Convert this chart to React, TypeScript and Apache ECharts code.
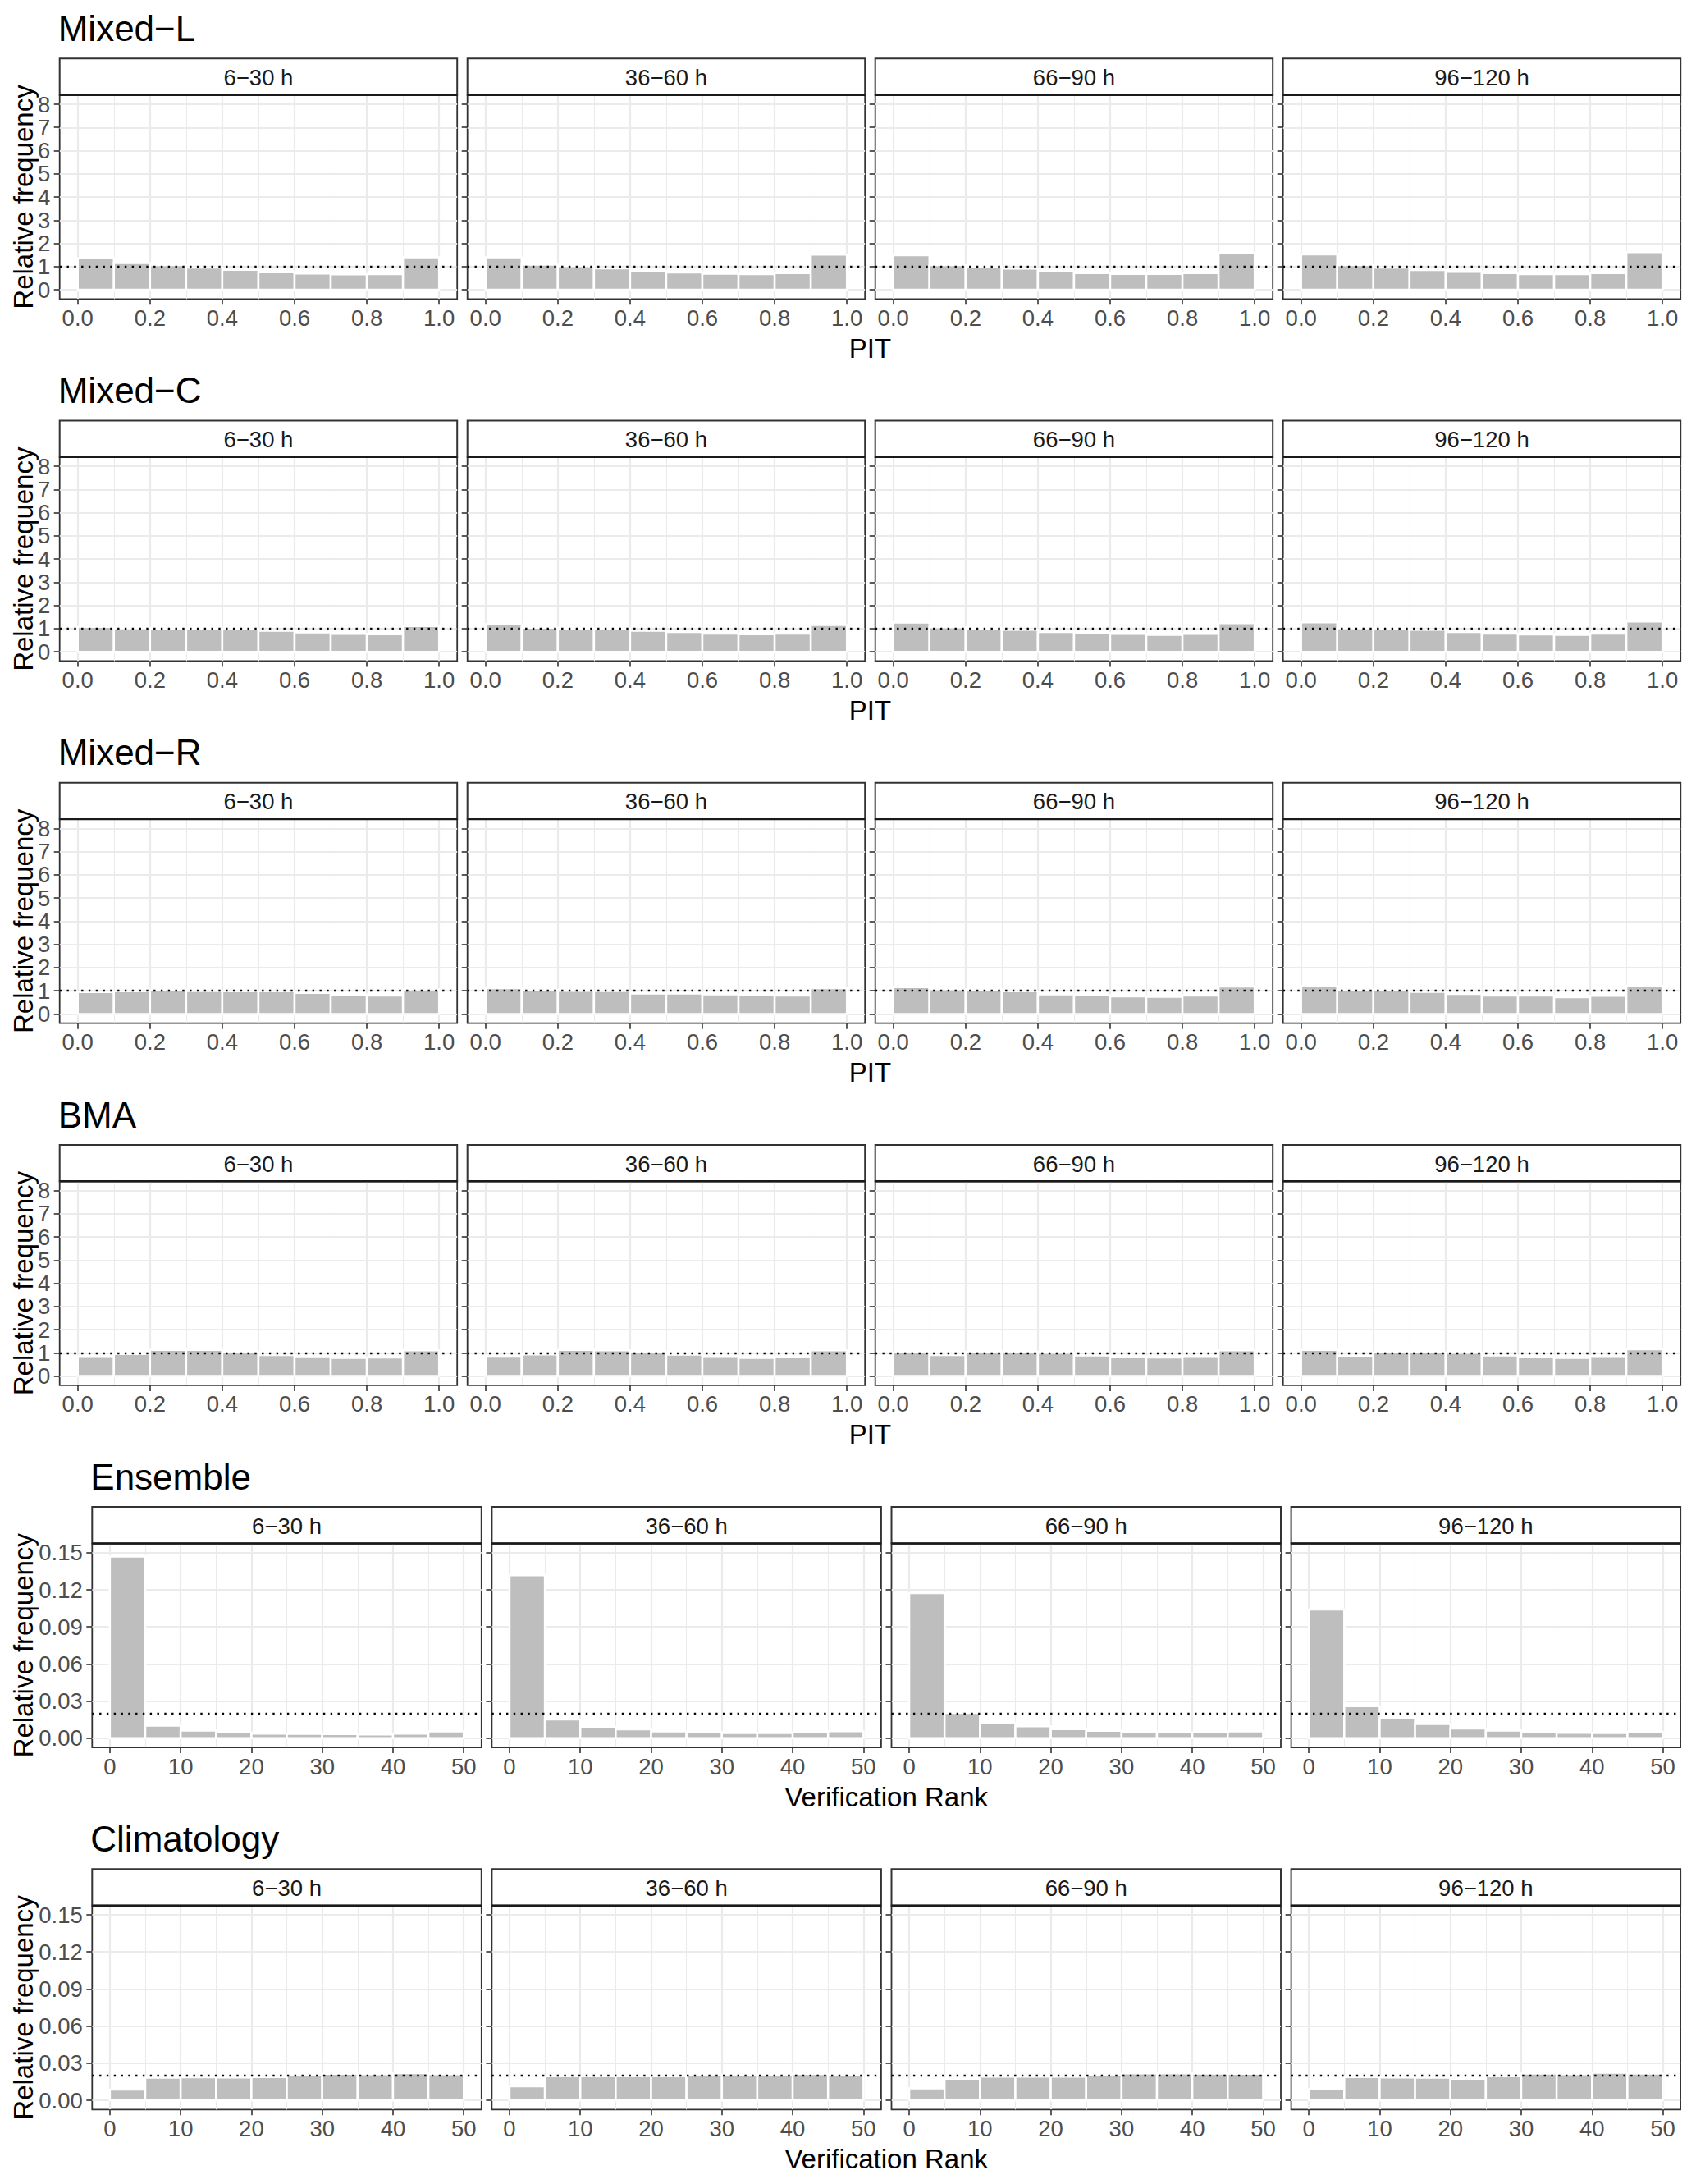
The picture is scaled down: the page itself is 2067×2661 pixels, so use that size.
import React, { useEffect, useRef } from 'react';
import * as echarts from 'echarts';

const CHART_W = 2067;
const CHART_H = 2661;
const FONT = '"Liberation Sans", Arial, Helvetica, sans-serif';

// ---------- data ----------
const leadTimes = ['6−30 h', '36−60 h', '66−90 h', '96−120 h'];

const pitBinStarts = [0, 0.1, 0.2, 0.3, 0.4, 0.5, 0.6, 0.7, 0.8, 0.9];
const PIT_BIN_WIDTH = 0.1;
const pitTicks = [0, 0.2, 0.4, 0.6, 0.8, 1.0];
const pitMinorTicks = [0.1, 0.3, 0.5, 0.7, 0.9];
const pitYTicks = [0, 1, 2, 3, 4, 5, 6, 7, 8];
const pitReference = 1;

const rankBinStarts = [0, 5, 10, 15, 20, 25, 30, 35, 40, 45];
const RANK_BIN_WIDTH = 5;
const rankTicks = [0, 10, 20, 30, 40, 50];
const rankMinorTicks = [5, 15, 25, 35, 45];
const rankYTicks = [0, 0.03, 0.06, 0.09, 0.12, 0.15];
const rankReference = 1 / 51;

const mixedL = [
  [1.35, 1.15, 1.06, 0.96, 0.86, 0.75, 0.70, 0.66, 0.67, 1.40],
  [1.40, 1.08, 1.02, 0.92, 0.81, 0.74, 0.69, 0.67, 0.72, 1.51],
  [1.49, 1.06, 0.99, 0.91, 0.79, 0.72, 0.68, 0.68, 0.72, 1.58],
  [1.52, 1.06, 0.96, 0.85, 0.77, 0.72, 0.67, 0.67, 0.72, 1.62],
];
const mixedC = [
  [1.08, 1.02, 1.01, 0.99, 0.98, 0.91, 0.84, 0.78, 0.76, 1.11],
  [1.19, 1.04, 1.01, 1.01, 0.91, 0.86, 0.79, 0.76, 0.79, 1.16],
  [1.26, 1.06, 1.01, 0.95, 0.86, 0.81, 0.78, 0.73, 0.78, 1.24],
  [1.27, 1.02, 1.01, 0.95, 0.86, 0.79, 0.75, 0.73, 0.79, 1.31],
];
const mixedR = [
  [0.94, 0.98, 1.04, 0.99, 0.98, 0.98, 0.91, 0.84, 0.79, 1.06],
  [1.11, 1.04, 1.00, 0.99, 0.88, 0.88, 0.85, 0.80, 0.79, 1.11],
  [1.16, 1.07, 1.05, 0.98, 0.85, 0.80, 0.76, 0.74, 0.79, 1.18],
  [1.20, 1.04, 1.04, 0.95, 0.86, 0.79, 0.79, 0.72, 0.78, 1.22],
];
const bma = [
  [0.86, 0.95, 1.13, 1.13, 1.04, 0.91, 0.85, 0.78, 0.80, 1.11],
  [0.87, 0.93, 1.13, 1.11, 1.04, 0.92, 0.86, 0.78, 0.81, 1.11],
  [1.02, 0.91, 1.05, 1.05, 1.00, 0.89, 0.84, 0.80, 0.86, 1.11],
  [1.13, 0.88, 1.02, 1.02, 1.00, 0.89, 0.84, 0.78, 0.86, 1.15],
];
const ensemble = [
  [0.1469, 0.0101, 0.0062, 0.0046, 0.0037, 0.0035, 0.0033, 0.0031, 0.0037, 0.0055],
  [0.1317, 0.0152, 0.0088, 0.0071, 0.0055, 0.0049, 0.0042, 0.0042, 0.0049, 0.0057],
  [0.1173, 0.0205, 0.0124, 0.0097, 0.0073, 0.0060, 0.0053, 0.0046, 0.0046, 0.0055],
  [0.1040, 0.0260, 0.0159, 0.0115, 0.0079, 0.0062, 0.0051, 0.0044, 0.0042, 0.0051],
];
const climatology = [
  [0.0087, 0.0182, 0.0186, 0.0185, 0.0187, 0.0201, 0.0214, 0.0210, 0.0219, 0.0210],
  [0.0113, 0.0194, 0.0194, 0.0194, 0.0194, 0.0201, 0.0207, 0.0205, 0.0212, 0.0203],
  [0.0097, 0.0174, 0.0190, 0.0190, 0.0190, 0.0203, 0.0218, 0.0218, 0.0216, 0.0214],
  [0.0093, 0.0187, 0.0185, 0.0183, 0.0175, 0.0194, 0.0215, 0.0210, 0.0222, 0.0216],
];

const rowTitles = ['Mixed−L', 'Mixed−C', 'Mixed−R', 'BMA', 'Ensemble', 'Climatology'];
const rowData = [mixedL, mixedC, mixedR, bma, ensemble, climatology];
const rowKinds = ['pit', 'pit', 'pit', 'pit', 'rank', 'rank'];

// ---------- layout (not data) ----------
const FIRST_STRIP_TOP = 71.3;
const ROW_PITCH = 441.2;
const STRIP_H = 44.4;
const PANEL_H = 248.6;

const kinds: any = {
  pit: {
    left: 72.7, width: 484.5, gap: 12.5,
    xMin: -0.05, xMax: 1.05, yMin: -0.4, yMax: 8.4,
    binStarts: pitBinStarts, binWidth: PIT_BIN_WIDTH,
    xTicks: pitTicks, xMinor: pitMinorTicks, yTicks: pitYTicks,
    xFmt: (v: number) => v.toFixed(1), yFmt: (v: number) => v.toFixed(0),
    ref: pitReference, xTitle: 'PIT',
  },
  rank: {
    left: 112.3, width: 474.5, gap: 12.6,
    xMin: -2.5, xMax: 52.5, yMin: -0.0075, yMax: 0.1575,
    binStarts: rankBinStarts, binWidth: RANK_BIN_WIDTH,
    xTicks: rankTicks, xMinor: rankMinorTicks, yTicks: rankYTicks,
    xFmt: (v: number) => v.toFixed(0), yFmt: (v: number) => v.toFixed(2),
    ref: rankReference, xTitle: 'Verification Rank',
  },
};

const TICK_COLOR = '#333333';
const LABEL_COLOR = '#4D4D4D';
const GRID_COLOR = '#EBEBEB';
const BAR_COLOR = '#BEBEBE';

function buildOption() {
  const grid: any[] = [];
  const xAxis: any[] = [];
  const yAxis: any[] = [];
  const series: any[] = [];
  const graphics: any[] = [];

  rowTitles.forEach((title, r) => {
    const k = kinds[rowKinds[r]];
    const stripTop = FIRST_STRIP_TOP + r * ROW_PITCH;
    const panelTop = stripTop + STRIP_H;
    const panelBottom = panelTop + PANEL_H;
    const totalRight = k.left + 4 * k.width + 3 * k.gap;

    graphics.push({
      type: 'text', x: k.left - 2, y: stripTop - 36.8, silent: true,
      style: { text: title, fontSize: 44, fontFamily: FONT, fill: '#000', align: 'left', verticalAlign: 'middle' },
    });
    graphics.push({
      type: 'text', x: 28.7, y: panelTop + PANEL_H / 2, rotation: Math.PI / 2, silent: true,
      style: { text: 'Relative frequency', fontSize: 33, fontFamily: FONT, fill: '#000', align: 'center', verticalAlign: 'middle' },
    });
    graphics.push({
      type: 'text', x: (k.left + totalRight) / 2, y: panelBottom + 60, silent: true,
      style: { text: k.xTitle, fontSize: 33, fontFamily: FONT, fill: '#000', align: 'center', verticalAlign: 'middle' },
    });

    leadTimes.forEach((lt, c) => {
      const g = r * 4 + c;
      const left = k.left + c * (k.width + k.gap);

      graphics.push({
        type: 'rect', silent: true, z: 10,
        shape: { x: left, y: stripTop, width: k.width, height: STRIP_H },
        style: { fill: '#FFFFFF', stroke: TICK_COLOR, lineWidth: 2 },
      });
      graphics.push({
        type: 'line', silent: true, z: 12,
        shape: { x1: left, y1: panelTop, x2: left + k.width, y2: panelTop },
        style: { stroke: '#1A1A1A', lineWidth: 2.4 },
      });
      graphics.push({
        type: 'text', silent: true, z: 11, x: left + k.width / 2, y: stripTop + STRIP_H / 2 + 1,
        style: { text: lt, fontSize: 27.5, fontFamily: FONT, fill: '#1A1A1A', align: 'center', verticalAlign: 'middle' },
      });

      grid.push({
        left, top: panelTop, width: k.width, height: PANEL_H,
        show: true, backgroundColor: '#FFFFFF', borderColor: TICK_COLOR, borderWidth: 1.8,
        containLabel: false,
      });

      xAxis.push({
        type: 'value', gridIndex: g, min: k.xMin, max: k.xMax, position: 'bottom',
        axisLine: { show: false, onZero: false },
        axisTick: { show: true, length: 7, customValues: k.xTicks, lineStyle: { color: TICK_COLOR, width: 1.6 } },
        axisLabel: {
          show: true, customValues: k.xTicks, formatter: k.xFmt, color: LABEL_COLOR,
          fontSize: 27.5, fontFamily: FONT, margin: 9,
        },
        splitLine: { show: true, lineStyle: { color: GRID_COLOR, width: 2.2 } },
      });
      xAxis.push({
        type: 'value', gridIndex: g, min: k.xMin, max: k.xMax, position: 'top',
        axisLine: { show: false, onZero: false },
        axisTick: { show: false, customValues: k.xMinor },
        axisLabel: { show: false, customValues: k.xMinor },
        splitLine: { show: true, lineStyle: { color: GRID_COLOR, width: 1.1 } },
      });
      yAxis.push({
        type: 'value', gridIndex: g, min: k.yMin, max: k.yMax, position: 'left',
        axisLine: { show: false, onZero: false },
        axisTick: { show: true, length: 7, customValues: k.yTicks, lineStyle: { color: TICK_COLOR, width: 1.6 } },
        axisLabel: {
          show: c === 0, customValues: k.yTicks, formatter: k.yFmt, color: LABEL_COLOR,
          fontSize: 27.5, fontFamily: FONT, margin: 11.5,
        },
        splitLine: { show: true, lineStyle: { color: GRID_COLOR, width: 2.2 } },
      });

      const vals: number[] = rowData[r][c];
      const data = k.binStarts.map((s: number, i: number) => [s, s + k.binWidth, vals[i]]);
      series.push({
        type: 'custom', xAxisIndex: 2 * g, yAxisIndex: g, data,
        encode: { x: [0, 1], y: 2 }, silent: true, clip: false,
        renderItem: (params: any, api: any) => {
          const p0 = api.coord([api.value(0), 0]);
          const p1 = api.coord([api.value(1), api.value(2)]);
          return {
            type: 'rect',
            shape: { x: p0[0], y: p1[1], width: p1[0] - p0[0], height: p0[1] - p1[1] },
            style: { fill: BAR_COLOR, stroke: '#FFFFFF', lineWidth: 2.5 },
          };
        },
        markLine: {
          silent: true, symbol: ['none', 'none'], label: { show: false }, animation: false,
          lineStyle: { color: '#000000', type: [2.4, 6.4], width: 2.4, cap: 'butt' },
          emphasis: { disabled: true },
          data: [{ yAxis: k.ref }],
        },
      });
    });
  });

  return {
    animation: false,
    backgroundColor: '#FFFFFF',
    grid, xAxis, yAxis, series,
    graphic: { elements: graphics },
  };
}

export default function App() {
  const ref = useRef<HTMLDivElement>(null);
  useEffect(() => {
    document.body.style.margin = '0';
    if (!ref.current) return;
    const chart = echarts.init(ref.current, undefined, { renderer: 'svg', width: CHART_W, height: CHART_H });
    chart.setOption(buildOption() as any);
    return () => chart.dispose();
  }, []);
  return <div ref={ref} style={{ width: CHART_W, height: CHART_H }} />;
}
